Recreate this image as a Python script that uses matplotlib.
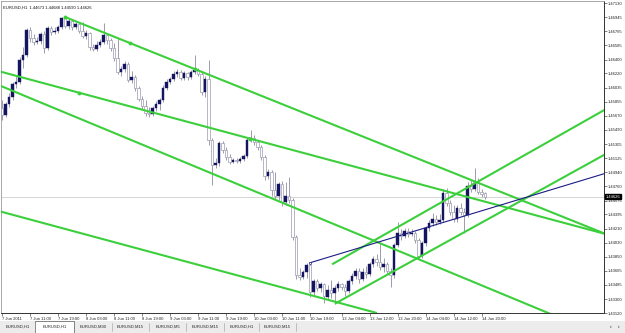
import matplotlib
matplotlib.use("Agg")
import matplotlib.pyplot as plt
from matplotlib.patches import Rectangle

W, H, DPI = 625, 333, 100
FONT = "Liberation Sans"

# EURUSD H1 bars, 7 Jun 2011 03:00 .. 14 Jun 2011 21:00
opens = [
    1.4577, 1.4568, 1.4582, 1.4591, 1.4608, 1.4611, 1.4639, 1.4646, 1.4678, 1.4668,
    1.4663, 1.4664, 1.4673, 1.4655, 1.4681, 1.4676, 1.4677, 1.4682, 1.4694, 1.4683,
    1.4690, 1.4682, 1.4686, 1.4677, 1.4670, 1.4674, 1.4656, 1.4654, 1.4659, 1.4663,
    1.4672, 1.4665, 1.4655, 1.4642, 1.4624, 1.4628, 1.4634, 1.4613, 1.4617, 1.4603,
    1.4589, 1.4580, 1.4571, 1.4569, 1.4577, 1.4582, 1.4588, 1.4603, 1.4611, 1.4615,
    1.4621, 1.4624, 1.4616, 1.4623, 1.4617, 1.4624, 1.4626, 1.4621, 1.4598, 1.4615,
    1.4536, 1.4503, 1.4506, 1.4532, 1.4523, 1.4514, 1.4507, 1.4510, 1.4509, 1.4511,
    1.4515, 1.4536, 1.4538, 1.4533, 1.4527, 1.4514, 1.4489, 1.4494, 1.4471, 1.4463,
    1.4479, 1.4456, 1.4463, 1.4458, 1.4410, 1.4361, 1.4359, 1.4365, 1.4374, 1.4339,
    1.4353, 1.4344, 1.4350, 1.4333, 1.4342, 1.4338, 1.4344, 1.4350, 1.4346, 1.4340,
    1.4353, 1.4360, 1.4366, 1.4356, 1.4365, 1.4362, 1.4375, 1.4382, 1.4378, 1.4371,
    1.4375, 1.4366, 1.4361, 1.4400, 1.4415, 1.4412, 1.4418, 1.4414, 1.4415, 1.4406,
    1.4386, 1.4403, 1.4422, 1.4428, 1.4434, 1.4430, 1.4432, 1.4467, 1.4454, 1.4443,
    1.4434, 1.4448, 1.4443, 1.4439, 1.4476, 1.4472, 1.4480, 1.4469, 1.44673,
]
highs = [
    1.4588, 1.4585, 1.4597, 1.4611, 1.4619, 1.4643, 1.4656, 1.4681, 1.4682, 1.4673,
    1.4669, 1.4676, 1.4677, 1.4683, 1.4683, 1.4682, 1.4685, 1.4695, 1.4696, 1.4692,
    1.4691, 1.4689, 1.4687, 1.4689, 1.4678, 1.4676, 1.4660, 1.4664, 1.4667, 1.4687,
    1.4674, 1.4668, 1.4661, 1.4668, 1.4632, 1.4638, 1.4637, 1.4625, 1.4620, 1.4606,
    1.4593, 1.4588, 1.4579, 1.4580, 1.4586, 1.4590, 1.4607, 1.4615, 1.4617, 1.4625,
    1.4628, 1.4626, 1.4625, 1.4624, 1.4626, 1.4646, 1.4629, 1.4624, 1.4619, 1.4639,
    1.4538, 1.4513, 1.4535, 1.4535, 1.4527, 1.4518, 1.4513, 1.4513, 1.4514, 1.4518,
    1.4538, 1.4549, 1.4542, 1.4536, 1.4529, 1.4516, 1.4498, 1.4497, 1.4494, 1.4481,
    1.4483, 1.4481, 1.4488, 1.4461, 1.4413, 1.4370, 1.4368, 1.4377, 1.4377, 1.4356,
    1.4356, 1.4352, 1.4351, 1.4348, 1.4355, 1.4348, 1.4353, 1.4351, 1.4350, 1.4356,
    1.4364, 1.4370, 1.4370, 1.4370, 1.4373, 1.4378, 1.4386, 1.4388, 1.4403, 1.4383,
    1.4378, 1.4370, 1.4403, 1.4430, 1.4421, 1.4422, 1.4422, 1.4421, 1.4418, 1.4409,
    1.4405, 1.4425, 1.4432, 1.4441, 1.4439, 1.4440, 1.4472, 1.4474, 1.4458, 1.4452,
    1.4452, 1.4454, 1.4448, 1.4481, 1.4484, 1.4500, 1.4487, 1.4472, 1.44688,
]
lows = [
    1.4562, 1.4566, 1.4579, 1.4588, 1.4603, 1.4608, 1.4629, 1.4643, 1.4663, 1.4659,
    1.4660, 1.4660, 1.4648, 1.4652, 1.4672, 1.4673, 1.4674, 1.4679, 1.4681, 1.4679,
    1.4678, 1.4679, 1.4674, 1.4668, 1.4667, 1.4652, 1.4651, 1.4651, 1.4656, 1.4660,
    1.4660, 1.4651, 1.4638, 1.4621, 1.4619, 1.4624, 1.4611, 1.4610, 1.4599, 1.4586,
    1.4576, 1.4567, 1.4566, 1.4567, 1.4573, 1.4575, 1.4585, 1.4601, 1.4608, 1.4612,
    1.4617, 1.4613, 1.4613, 1.4613, 1.4615, 1.4621, 1.4619, 1.4594, 1.4591, 1.4529,
    1.4478, 1.4500, 1.4502, 1.4519, 1.4510, 1.4505, 1.4506, 1.4506, 1.4506, 1.4509,
    1.4513, 1.4533, 1.4529, 1.4523, 1.4510, 1.4484, 1.4485, 1.4463, 1.4458, 1.4458,
    1.4450, 1.4452, 1.4454, 1.4406, 1.4356, 1.4355, 1.4356, 1.4357, 1.4333, 1.4335,
    1.4340, 1.4339, 1.4325, 1.4329, 1.4331, 1.4324, 1.4340, 1.4342, 1.4334, 1.4338,
    1.4350, 1.4356, 1.4351, 1.4353, 1.4357, 1.4360, 1.4371, 1.4373, 1.4368, 1.4365,
    1.4362, 1.4346, 1.4357, 1.4397, 1.4406, 1.4409, 1.4410, 1.4412, 1.4403, 1.4382,
    1.4383, 1.4399, 1.4418, 1.4425, 1.4426, 1.4427, 1.4430, 1.4450, 1.4439, 1.4430,
    1.4430, 1.4439, 1.4415, 1.4436, 1.4469, 1.4470, 1.4466, 1.4462, 1.44590,
]
closes = [
    1.4568, 1.4582, 1.4591, 1.4608, 1.4611, 1.4639, 1.4646, 1.4678, 1.4668, 1.4663,
    1.4664, 1.4673, 1.4655, 1.4681, 1.4676, 1.4677, 1.4682, 1.4694, 1.4683, 1.4690,
    1.4682, 1.4686, 1.4677, 1.4670, 1.4674, 1.4656, 1.4654, 1.4659, 1.4663, 1.4672,
    1.4665, 1.4655, 1.4642, 1.4624, 1.4628, 1.4634, 1.4613, 1.4617, 1.4603, 1.4589,
    1.4580, 1.4571, 1.4569, 1.4577, 1.4582, 1.4588, 1.4603, 1.4611, 1.4615, 1.4621,
    1.4624, 1.4616, 1.4623, 1.4617, 1.4624, 1.4626, 1.4621, 1.4598, 1.4615, 1.4536,
    1.4503, 1.4506, 1.4532, 1.4523, 1.4514, 1.4507, 1.4510, 1.4509, 1.4511, 1.4515,
    1.4536, 1.4538, 1.4533, 1.4527, 1.4514, 1.4489, 1.4494, 1.4471, 1.4463, 1.4479,
    1.4456, 1.4463, 1.4458, 1.4410, 1.4361, 1.4359, 1.4365, 1.4374, 1.4339, 1.4353,
    1.4344, 1.4350, 1.4334, 1.4342, 1.4338, 1.4344, 1.4350, 1.4346, 1.4340, 1.4353,
    1.4360, 1.4366, 1.4356, 1.4365, 1.4362, 1.4375, 1.4382, 1.4378, 1.4371, 1.4375,
    1.4366, 1.4361, 1.4400, 1.4415, 1.4412, 1.4418, 1.4414, 1.4415, 1.4406, 1.4386,
    1.4403, 1.4422, 1.4428, 1.4434, 1.4430, 1.4432, 1.4467, 1.4454, 1.4443, 1.4434,
    1.4448, 1.4443, 1.4439, 1.4476, 1.4472, 1.4480, 1.4469, 1.4466, 1.44626,
]

time_ticks = [0, 8, 16, 24, 32, 40, 48, 56, 64, 72, 80, 88, 97, 105, 113, 121, 129, 137]
time_labels = [
    "7 Jun 2011", "7 Jun 11:00", "7 Jun 19:00", "8 Jun 03:00", "8 Jun 11:00",
    "8 Jun 19:00", "9 Jun 03:00", "9 Jun 11:00", "9 Jun 19:00", "10 Jun 03:00",
    "10 Jun 11:00", "10 Jun 19:00", "13 Jun 04:00", "13 Jun 12:00", "13 Jun 20:00",
    "14 Jun 04:00", "14 Jun 12:00", "14 Jun 20:00",
]
price_ticks = [
    1.47130, 1.46945, 1.46765, 1.46585, 1.46400, 1.46220, 1.46035, 1.45855,
    1.45670, 1.45490, 1.45305, 1.45125, 1.44940, 1.44760, 1.44575, 1.44395,
    1.44210, 1.44030, 1.43850, 1.43665, 1.43485, 1.43300, 1.43120,
]

# trend lines: (bar1, price1, bar2, price2)
green_lines = [
    (18.0, 1.4695, 172.6, 1.4414),
    (-1.0, 1.4625, 172.6, 1.4414),
    (-1.0, 1.4607, 156.6, 1.4311),
    (-1.0, 1.4444, 107.1, 1.4312),
    (94.3, 1.4375, 172.6, 1.4576),
    (95.1, 1.4324, 172.6, 1.4518),
]
navy_line = (88.0, 1.4377, 172.6, 1.4493)
anchor_x = [18.0, 36.6, 55.1, 22.0, 70.9]
anchor_p = [1.4695, 1.4661, 1.4628, 1.4597, 1.4537]

tab_names = ["EURUSD,H1", "EURUSD,H1", "EURUSD,M30", "EURUSD,M15",
             "EURUSD,M5", "EURUSD,M15", "EURUSD,H1", "EURUSD,M15"]

GREEN = "#3ccf3c"
NAVY = "#1c1c86"
BULL = "#141460"
BEAR_EDGE = "#9a9aae"
WICK = "#8c8c9c"

fig = plt.figure(figsize=(W / DPI, H / DPI), dpi=DPI)
fig.patch.set_facecolor("white")
ax = fig.add_axes([1 / W, 20 / H, 603 / W, 312 / H])
ax.set_xlim(-0.3, 172.0)
ax.set_ylim(1.43120, 1.47157)

last = closes[-1]
ax.axhline(last, color="#cfcfcf", lw=0.6, zorder=1)

for i, (o, h, l, c) in enumerate(zip(opens, highs, lows, closes)):
    ax.vlines(i, l, h, color=WICK, lw=0.6, zorder=2)
    bottom = min(o, c)
    height = max(abs(c - o), 0.00004)
    if c >= o:
        ax.bar(i, height, bottom=bottom, width=0.62, color=BULL,
               edgecolor=BULL, lw=0.3, zorder=3)
    else:
        ax.bar(i, height, bottom=bottom, width=0.62, color="white",
               edgecolor=BEAR_EDGE, lw=0.5, zorder=3)

for x1, p1, x2, p2 in green_lines:
    ax.plot([x1, x2], [p1, p2], color=GREEN, lw=1.5, zorder=4,
            solid_capstyle="butt")
ax.plot(anchor_x, anchor_p, "o", color=GREEN, ms=1.8, zorder=5)
nx1, np1, nx2, np2 = navy_line
ax.plot([nx1, nx2], [np1, np2], color=NAVY, lw=0.8, zorder=4)
ax.plot([nx1], [np1], marker="o", mfc="white", mec=NAVY, ms=1.6, mew=0.5, zorder=5)

# axes decoration, MetaTrader style
ax.yaxis.tick_right()
ax.set_yticks(price_ticks)
ax.set_yticklabels([f"{p:.5f}" for p in price_ticks], fontsize=3, family=FONT)
ax.tick_params(axis="y", length=1.8, width=0.4, pad=1, colors="#222222")
ax.set_xticks(time_ticks)
ax.set_xticklabels(time_labels, fontsize=3, family=FONT)
for lbl in ax.get_xticklabels():
    lbl.set_ha("left")
ax.tick_params(axis="x", length=1.8, width=0.4, pad=1, colors="#222222")
for side in ["right", "bottom"]:
    ax.spines[side].set_color("#333333")
    ax.spines[side].set_linewidth(0.7)
for side in ["left", "top"]:
    ax.spines[side].set_color("#9a9a9a")
    ax.spines[side].set_linewidth(0.6)

ax.text(1.003, last, f"{last:.5f}", transform=ax.get_yaxis_transform(),
        fontsize=3, family=FONT, color="white", va="center", ha="left",
        bbox=dict(boxstyle="square,pad=0.15", fc="black", ec="black"), zorder=10)

ax.text(0.004, 0.985,
        f"EURUSD,H1  {opens[-1]:.5f} {highs[-1]:.5f} {lows[-1]:.5f} {closes[-1]:.5f}",
        transform=ax.transAxes, fontsize=3, family=FONT, color="#111111",
        va="top", ha="left")

# tab bar at the bottom
fig.patches.append(Rectangle((0, 0), 1, 12 / H, transform=fig.transFigure,
                             fc="#ececec", ec="none", zorder=0))
tab_edges = [0, 35, 74, 112, 149, 186, 224, 259, 296]
for k, name in enumerate(tab_names):
    x0, x1 = tab_edges[k], tab_edges[k + 1]
    if k == 1:
        fig.patches.append(Rectangle((x0 / W, 0), (x1 - x0) / W, 12 / H,
                                     transform=fig.transFigure, fc="white",
                                     ec="#555555", lw=0.5, zorder=1))
    else:
        fig.lines.append(plt.Line2D([x1 / W, x1 / W], [2 / H, 10 / H],
                                    transform=fig.transFigure, color="#9a9a9a",
                                    lw=0.4))
    fig.text((x0 + x1) / 2 / W, 6 / H, name, fontsize=3, family=FONT,
             color="#222222", ha="center", va="center", zorder=2)
fig.text(611 / W, 6 / H, "\u2039", fontsize=3.5, family=FONT, ha="center", va="center")
fig.text(619 / W, 6 / H, "\u203a", fontsize=3.5, family=FONT, ha="center", va="center")

fig.savefig("out.png", dpi=DPI)
